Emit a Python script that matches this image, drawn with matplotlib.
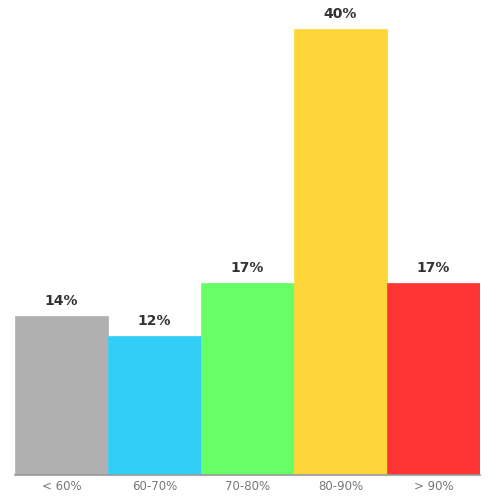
import matplotlib
matplotlib.use('Agg')
import matplotlib.pyplot as plt

# Grade bands and share of students (labels rounded)
categories = ['< 60%', '60-70%', '70-80%', '80-90%', '> 90%']
shares = [14.1, 12.3, 17.0, 39.6, 17.0]
labels = ['14%', '12%', '17%', '40%', '17%']
colors = ['#b0b0b0', '#33cef7', '#66ff66', '#ffd63a', '#ff3535']

fig = plt.figure(figsize=(5, 5), dpi=100)
ax = fig.add_axes([0.03, 0.0506, 0.93, 0.9454])

bars = ax.bar(range(len(categories)), shares, width=1.0, color=colors,
              edgecolor=colors, linewidth=0.5)

for bar, lab in zip(bars, labels):
    ax.annotate(lab, (bar.get_x() + bar.get_width() / 2, bar.get_height()),
                xytext=(0, 6), textcoords='offset points',
                ha='center', va='bottom', fontsize=10, fontweight='bold',
                color='#333333')

ax.set_xlim(-0.5, len(categories) - 0.5)
ax.set_ylim(0, 42)
ax.set_xticks(range(len(categories)))
ax.set_xticklabels(categories, fontsize=8.5, color='#777777')
ax.tick_params(axis='x', length=0, pad=4)
ax.set_yticks([])
for side in ['top', 'right', 'left']:
    ax.spines[side].set_visible(False)
ax.spines['bottom'].set_color('#999999')
ax.spines['bottom'].set_linewidth(1.2)

fig.savefig('out.png', dpi=100)
